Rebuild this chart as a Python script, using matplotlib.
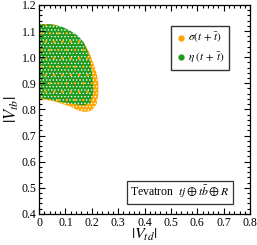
import matplotlib
matplotlib.use("Agg")
import matplotlib.pyplot as plt
from matplotlib.ticker import MultipleLocator, FixedLocator, FixedFormatter
from matplotlib.lines import Line2D

plt.rcParams['font.family'] = ['Liberation Serif', 'DejaVu Serif']
plt.rcParams['mathtext.fontset'] = 'stix'
plt.rcParams['hatch.linewidth'] = 0.6

# allowed region boundaries (|V_td|, |V_tb|)
sigma_x = [0.0, 0.05, 0.10, 0.14, 0.17, 0.19, 0.205, 0.218, 0.225, 0.225, 0.218, 0.20, 0.175, 0.15, 0.12, 0.06, 0.0]
sigma_y = [1.125, 1.125, 1.11, 1.085, 1.055, 1.02, 0.98, 0.94, 0.90, 0.86, 0.82, 0.795, 0.79, 0.795, 0.81, 0.83, 0.84]
eta_x = [0.0, 0.03, 0.06, 0.09, 0.12, 0.15, 0.17, 0.185, 0.195, 0.20, 0.205, 0.205, 0.195, 0.17, 0.12, 0.06, 0.0]
eta_y = [1.125, 1.127, 1.124, 1.115, 1.10, 1.08, 1.055, 1.02, 0.98, 0.94, 0.90, 0.86, 0.825, 0.815, 0.822, 0.833, 0.845]

xticks = [0, 0.1, 0.2, 0.3, 0.4, 0.5, 0.6, 0.7, 0.8]
xlabels = ['0', '0.1', '0.2', '0.3', '0.4', '0.5', '0.6', '0.7', '0.8']
yticks = [0.4, 0.5, 0.6, 0.7, 0.8, 0.9, 1.0, 1.1, 1.2]
ylabels = ['0.4', '0.5', '0.6', '0.7', '0.8', '0.9', '1.0', '1.1', '1.2']

ORANGE = '#ffa500'
GREEN = '#1e9a1e'

fig = plt.figure(figsize=(2.57, 2.45), dpi=100)
ax = fig.add_axes([0.152, 0.127, 0.821, 0.853])

ax.fill(sigma_x, sigma_y, facecolor=ORANGE, edgecolor='white', hatch='.....', linewidth=0)
ax.fill(eta_x, eta_y, facecolor=GREEN, edgecolor='white', hatch='.....', linewidth=0)
ax.fill(eta_x, eta_y, facecolor='none', edgecolor=ORANGE, hatch='..', linewidth=0)

ax.set_xlim(0, 0.8)
ax.set_ylim(0.4, 1.2)
ax.xaxis.set_major_locator(FixedLocator(xticks))
ax.xaxis.set_major_formatter(FixedFormatter(xlabels))
ax.yaxis.set_major_locator(FixedLocator(yticks))
ax.yaxis.set_major_formatter(FixedFormatter(ylabels))
ax.xaxis.set_minor_locator(MultipleLocator(0.02))
ax.yaxis.set_minor_locator(MultipleLocator(0.02))
ax.tick_params(which='both', direction='in', top=True, right=True, labelsize=8.5, width=0.8, pad=2)
ax.tick_params(which='major', length=4)
ax.tick_params(which='minor', length=2)
for sp in ax.spines.values():
    sp.set_linewidth(0.9)

ax.set_xlabel(r'$|V_{td}|$', fontsize=11.5, labelpad=-1)
ax.set_ylabel(r'$|V_{tb}|$', fontsize=12, labelpad=0)

handles = [Line2D([], [], marker='o', color=ORANGE, linestyle='none', markersize=3.5),
           Line2D([], [], marker='o', color=GREEN, linestyle='none', markersize=3.5)]
ax.legend(handles, [r'$\sigma(t\,+\,\bar{t})$', r'$\eta\ (t\,+\,\bar{t})$'], loc='upper right',
          bbox_to_anchor=(0.925, 0.925), fontsize=8, fancybox=False, edgecolor='#333333',
          framealpha=1, handletextpad=0.1, handlelength=1.0, borderpad=0.4, labelspacing=0.45)

ax.text(0.668, 0.103, r'Tevatron  $tj \oplus t\bar{b} \oplus R$', transform=ax.transAxes,
        ha='center', va='center', fontsize=8.5,
        bbox=dict(boxstyle='square,pad=0.3', facecolor='white', edgecolor='#333333', linewidth=0.9))

fig.savefig('out.png', dpi=100)
